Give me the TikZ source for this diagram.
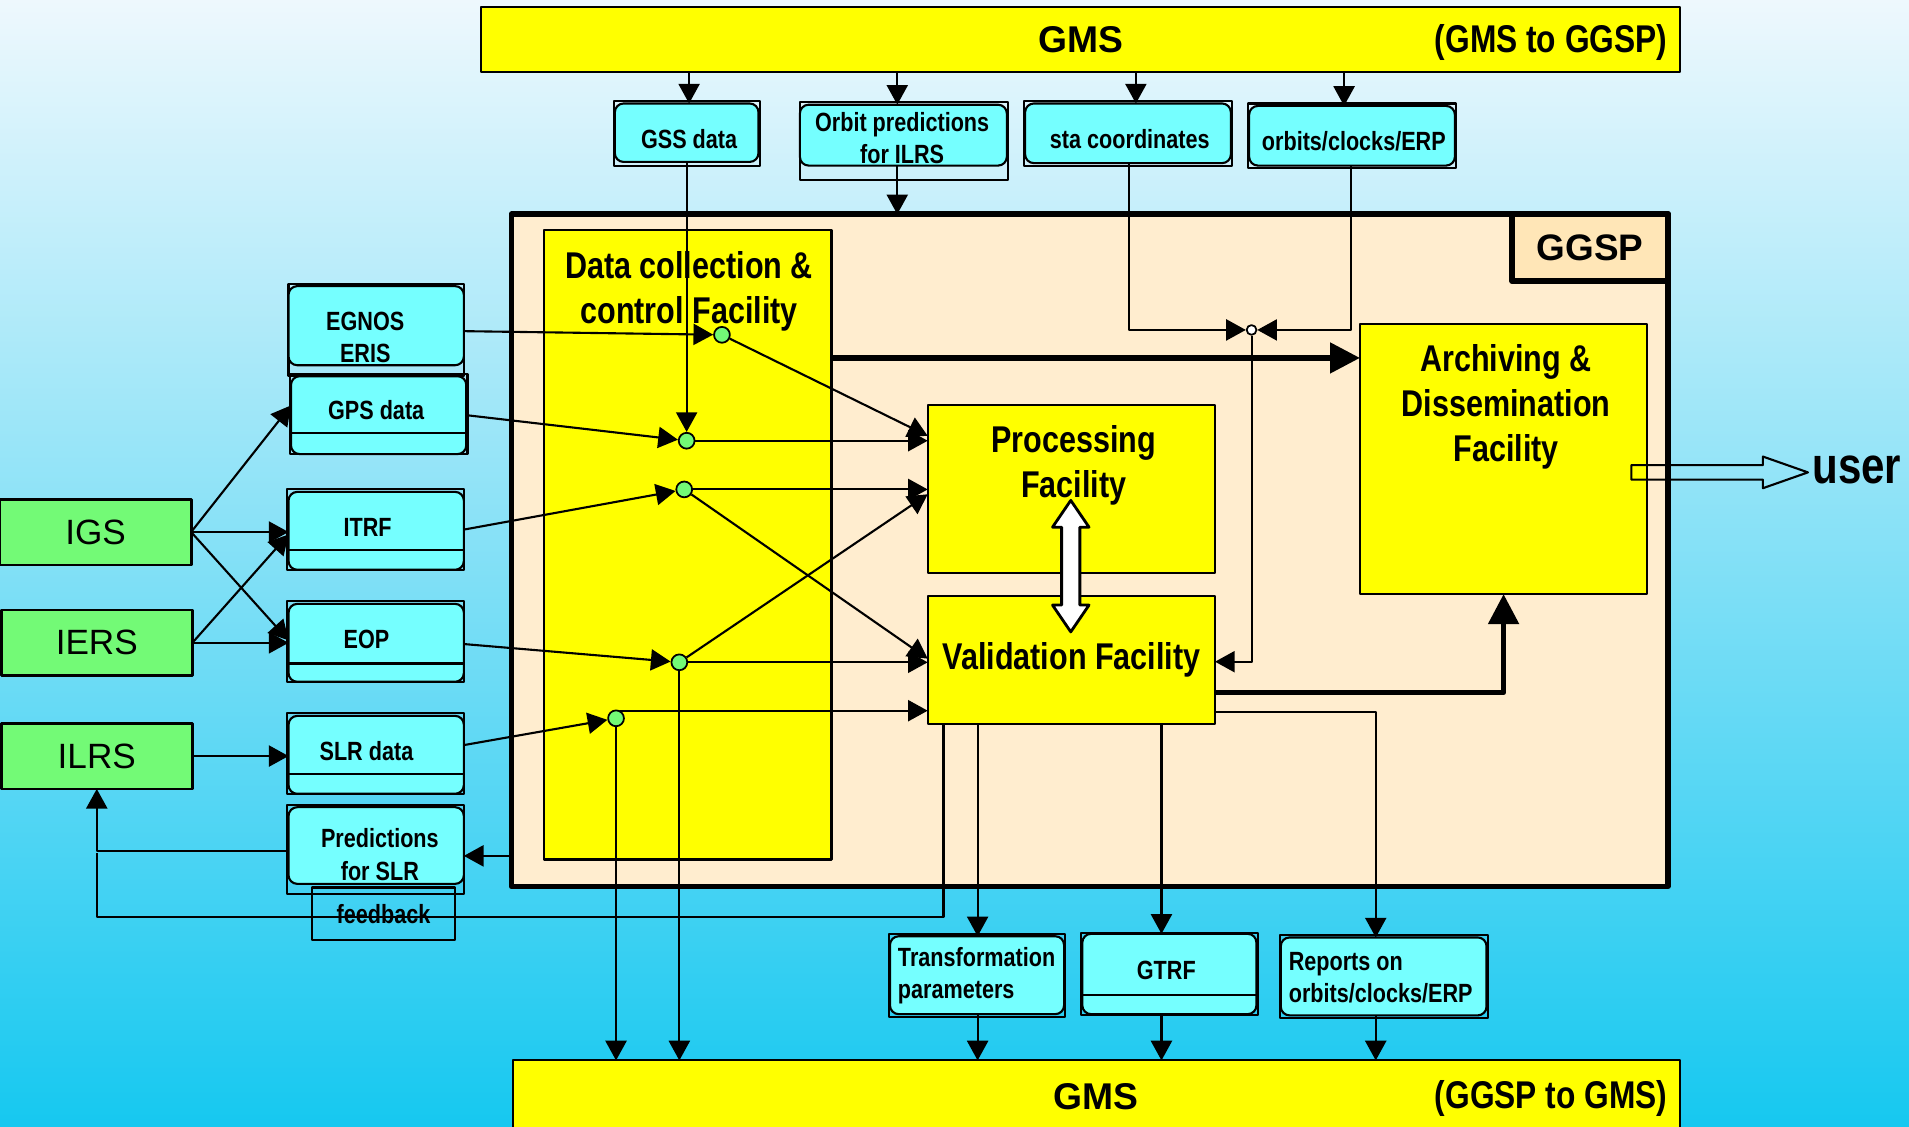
\documentclass[tikz,border=0pt]{standalone}
\usepackage{fontspec}
\setmainfont{Liberation Sans}
\newfontfamily\narrow[FakeStretch=0.82]{Liberation Sans}
\usetikzlibrary{arrows.meta}
\definecolor{facyellow}{RGB}{255,255,0}
\definecolor{cyanbox}{RGB}{117,255,255}
\definecolor{srcgreen}{RGB}{115,250,118}
\definecolor{ggspbg}{RGB}{255,237,207}
\definecolor{ggsplab}{RGB}{255,230,183}
\definecolor{bgtop}{RGB}{238,248,253}
\definecolor{bgmid}{RGB}{160,218,242}
\definecolor{bgbot}{RGB}{22,200,240}
\newdimen\pu \pu=0.012175cm
\tikzset{
  sz/.style 2 args={minimum width=#1*\pu,minimum height=#2*\pu},
  bar/.style={draw,fill=facyellow,line width=0.6pt,inner sep=0,outer sep=0},
  fac/.style={draw,fill=facyellow,line width=0.6pt,inner sep=0,outer sep=0},
  src/.style={draw,fill=srcgreen,line width=0.8pt,inner sep=0,outer sep=0,sz={157}{54},font=\fontsize{10}{12}\selectfont},
  data/.style={draw,fill=cyanbox,line width=0.6pt,rounded corners=2.5pt,inner sep=0,outer sep=0},
  frame/.style={line width=0.6pt},
  dot/.style={circle,draw,fill=srcgreen,line width=0.5pt,minimum size=13*\pu,inner sep=0},
  arr/.style={-{Triangle[length=5.6pt,width=6pt]},line width=0.6pt},
  fat/.style={-{Triangle[length=8.5pt,width=8.5pt]},line width=1.5pt},
  small/.style={font=\narrow\bfseries\fontsize{7.5}{9.2}\selectfont,align=center,inner sep=0},
  large/.style={font=\narrow\bfseries\fontsize{10.6}{12.8}\selectfont,align=center,inner sep=0}
}
\begin{document}
\begin{tikzpicture}[x=0.012175cm,y=-0.012175cm,line join=round]
\useasboundingbox (0,0) rectangle (1568,925);
\shade[top color=bgtop,middle color=bgmid,bottom color=bgbot] (0,0) rectangle (1568,925);

% GMS bars
\node[bar,sz={985}{53},font=\bfseries\fontsize{10.6}{12}\selectfont] (gmsin) at (887.5,32.5) {GMS};
\node[anchor=east,inner sep=0,font=\narrow\bfseries\fontsize{11}{13}\selectfont] (gmsintag) at (1370,35) {(GMS to GGSP)};
\node[bar,sz={959}{60},font=\bfseries\fontsize{10.6}{12}\selectfont] (gmsout) at (900.5,901) {GMS};
\node[anchor=east,inner sep=0,font=\narrow\bfseries\fontsize{11}{13}\selectfont] (gmsouttag) at (1370,902) {(GGSP to GMS)};

% GGSP and its facilities
\node[draw,fill=ggspbg,line width=1.6pt,inner sep=0,outer sep=0,sz={950}{552}] (ggsp) at (895,452) {};
\node[draw,fill=ggsplab,line width=1.6pt,inner sep=0,sz={128}{55},font=\bfseries\fontsize{10.5}{12}\selectfont] (ggsptag) at (1306,203.5) {GGSP};
\node[fac,sz={236}{517}] (dcf) at (565,447.5) {};
\node[large] (dcftxt) at (566,239) {Data collection \&\\control Facility};
\node[fac,sz={236}{138}] (proc) at (880,402) {};
\node[large] (proctxt) at (882,382.5) {Processing\\Facility};
\node[fac,large,sz={236}{105}] (val) at (880,542) {Validation Facility};
\node[fac,sz={236}{222}] (arch) at (1235,377) {};
\node[large] (archtxt) at (1237,334) {Archiving \&\\Dissemination\\Facility};

% providers
\node[src] (igs) at (78.5,437) {IGS};
\node[src] (iers) at (79.5,528) {IERS};
\node[src] (ilrs) at (79.5,621) {ILRS};

% data boxes
\foreach \a/\b/\c/\d in {237/233/381/309,238/307/384/373,236/402/381/468,236/494/381/560,236/586/381/652,236/661/381/734,504/83/624/136,657/84/828/148,841/83/1012/136,1025/85/1196/138,730/767/875/835,888/766/1033/834,1051/768/1222/836}
  \draw[frame] (\a,\b) rectangle (\c,\d);
\node[data,sz={144}{65}] (egnos) at (309,267.5) {};
\node[data,sz={144}{64}] (gps) at (311,341) {};
\node[data,sz={144}{64}] (itrf) at (309,436) {};
\node[data,sz={144}{64}] (eop) at (309,528) {};
\node[data,sz={144}{64}] (slr) at (309,620) {};
\node[data,sz={144}{63}] (pred) at (309,694.5) {};
\node[data,sz={118}{48}] (gss) at (564,109) {};
\node[data,sz={170}{50}] (orb) at (742,111) {};
\node[data,sz={169}{49}] (sta) at (926.5,109.5) {};
\node[data,sz={169}{49}] (oce) at (1110.5,111.5) {};
\node[data,sz={143}{64}] (trans) at (802.5,801) {};
\node[data,sz={143}{66}] (gtrf) at (960.5,800) {};
\node[data,sz={169}{64}] (rep) at (1136.5,802) {};
\foreach \n/\y in {gps/356,itrf/452,eop/545,slr/636,gtrf/817}
  \draw[frame] (\n.west |- 0,\y) -- (\n.east |- 0,\y);
\node[small] (egnostxt) at (300,277) {EGNOS\\ERIS};
\node[small] (gpstxt) at (309,337) {GPS data};
\node[small] (itrftxt) at (302,433) {ITRF};
\node[small] (eoptxt) at (301,525) {EOP};
\node[small] (slrtxt) at (301,617) {SLR data};
\node[small] (predtxt) at (312,702) {Predictions\\for SLR};
\node[small] (gsstxt) at (566,114) {GSS data};
\node[small] (orbtxt) at (741,113.5) {Orbit predictions\\for ILRS};
\node[small] (statxt) at (928,114) {sta coordinates};
\node[small] (ocetxt) at (1112,116) {orbits/clocks/ERP};
\node[small,align=left,anchor=west] (transtxt) at (737,801.5) {Transformation\\parameters};
\node[small] (gtrftxt) at (958,797) {GTRF};
\node[small,align=left,anchor=west] (reptxt) at (1058,803) {Reports on\\orbits/clocks/ERP};
\node[draw,line width=0.6pt,sz={118}{43},small] (fb) at (315,750.5) {feedback};

% collection points
\node[dot] (d1) at (593,275) {};
\node[dot] (d2) at (564,362) {};
\node[dot] (d3) at (562,402) {};
\node[dot] (d4) at (558,544) {};
\node[dot] (d5) at (506,590) {};
\node[circle,draw,fill=white,line width=0.5pt,minimum size=8*\pu,inner sep=0] (jn) at (1028,271) {};

% providers to data
\draw[arr] (igs.east) -- (gps.west |- 0,333);
\draw[arr] (igs.east) -- (itrf.west |- 0,437);
\draw[arr] (igs.east) -- (eop.west |- 0,526);
\draw[arr] (iers.east) -- (itrf.west |- 0,439);
\draw[arr] (iers.east) -- (eop.west |- 0,528);
\draw[arr] (ilrs.east) -- (slr.west |- ilrs.east);

% data to collection points
\draw[arr] (egnos.east |- 0,272) -- (d1);
\draw[arr] (gps.east) -- (d2);
\draw[arr] (gss) -- (d2);
\draw[arr] (itrf.east |- 0,435) -- (d3);
\draw[arr] (eop.east |- 0,529) -- (d4);
\draw[arr] (slr.east |- 0,612) -- (d5);

% collection points to processing / validation
\draw[arr] (d1) -- (proc.west |- 0,358);
\draw[arr] (d2) -- (proc.west |- d2);
\draw[arr] (d3) -- (proc.west |- d3);
\draw[arr] (d3) -- (val.west |- 0,541);
\draw[arr] (d4) -- (val.west |- d4);
\draw[arr] (d4) -- (proc.west |- 0,406);
\draw[arr] (d5.60) -- (val.west |- d5.60);
\draw[arr] (d4) -- (d4 |- gmsout.north);
\draw[arr] (d5) -- (d5 |- gmsout.north);

% inputs from GMS
\foreach \x/\n in {566/gss,737/orb,933/sta,1104/oce}
  \draw[arr] (\x,0 |- gmsin.south) -- (\x,0 |- \n.north);
\draw[arr] (737,0 |- orb.south) -- (737,0 |- ggsp.north);
\draw[arr] (927,0 |- sta.south) |- (jn);
\draw[arr] (1110,0 |- oce.south) |- (jn);
\draw[arr] (jn) |- (val.east |- 0,543.5);

% to archiving
\draw[fat] (dcf.east |- 0,294) -- (arch.west |- 0,294);
\draw[fat] (val.east |- 0,569) -| (arch.south);
\draw[line width=0.8pt,fill=white] (879.5,411) -- ++(15,22) -- ++(-7.5,0) -- ++(0,64) -- ++(7.5,0) -- (879.5,519)
  -- ++(-15,-22) -- ++(7.5,0) -- ++(0,-64) -- ++(-7.5,0) -- cycle;
\draw[line width=0.6pt] (1340,382) -- (1448,382) -- (1448,375) -- (1485,388) -- (1448,401) -- (1448,394) -- (1340,394) -- cycle;
\node[anchor=west,inner sep=0,font=\narrow\bfseries\fontsize{14.6}{17}\selectfont] (user) at (1488,386) {user};

% outputs to GMS
\foreach \x/\n in {803/trans,954/gtrf}
  \draw[arr] (\x,0 |- val.south) -- (\x,0 |- \n.north);
\draw[arr] (val.east |- 0,585) -| (1130,0 |- rep.north);
\foreach \x/\n in {803/trans,954/gtrf,1130/rep}
  \draw[arr] (\x,0 |- \n.south) -- (\x,0 |- gmsout.north);

% SLR predictions and feedback
\draw[arr] (ggsp.west |- 0,703) -- (pred.east |- 0,703);
\draw[arr] (pred.west |- 0,699) -| (ilrs.south);
\draw[line width=0.6pt] (775,0 |- val.south) |- (79.5,753) -- (79.5,701);
\end{tikzpicture}
\end{document}
